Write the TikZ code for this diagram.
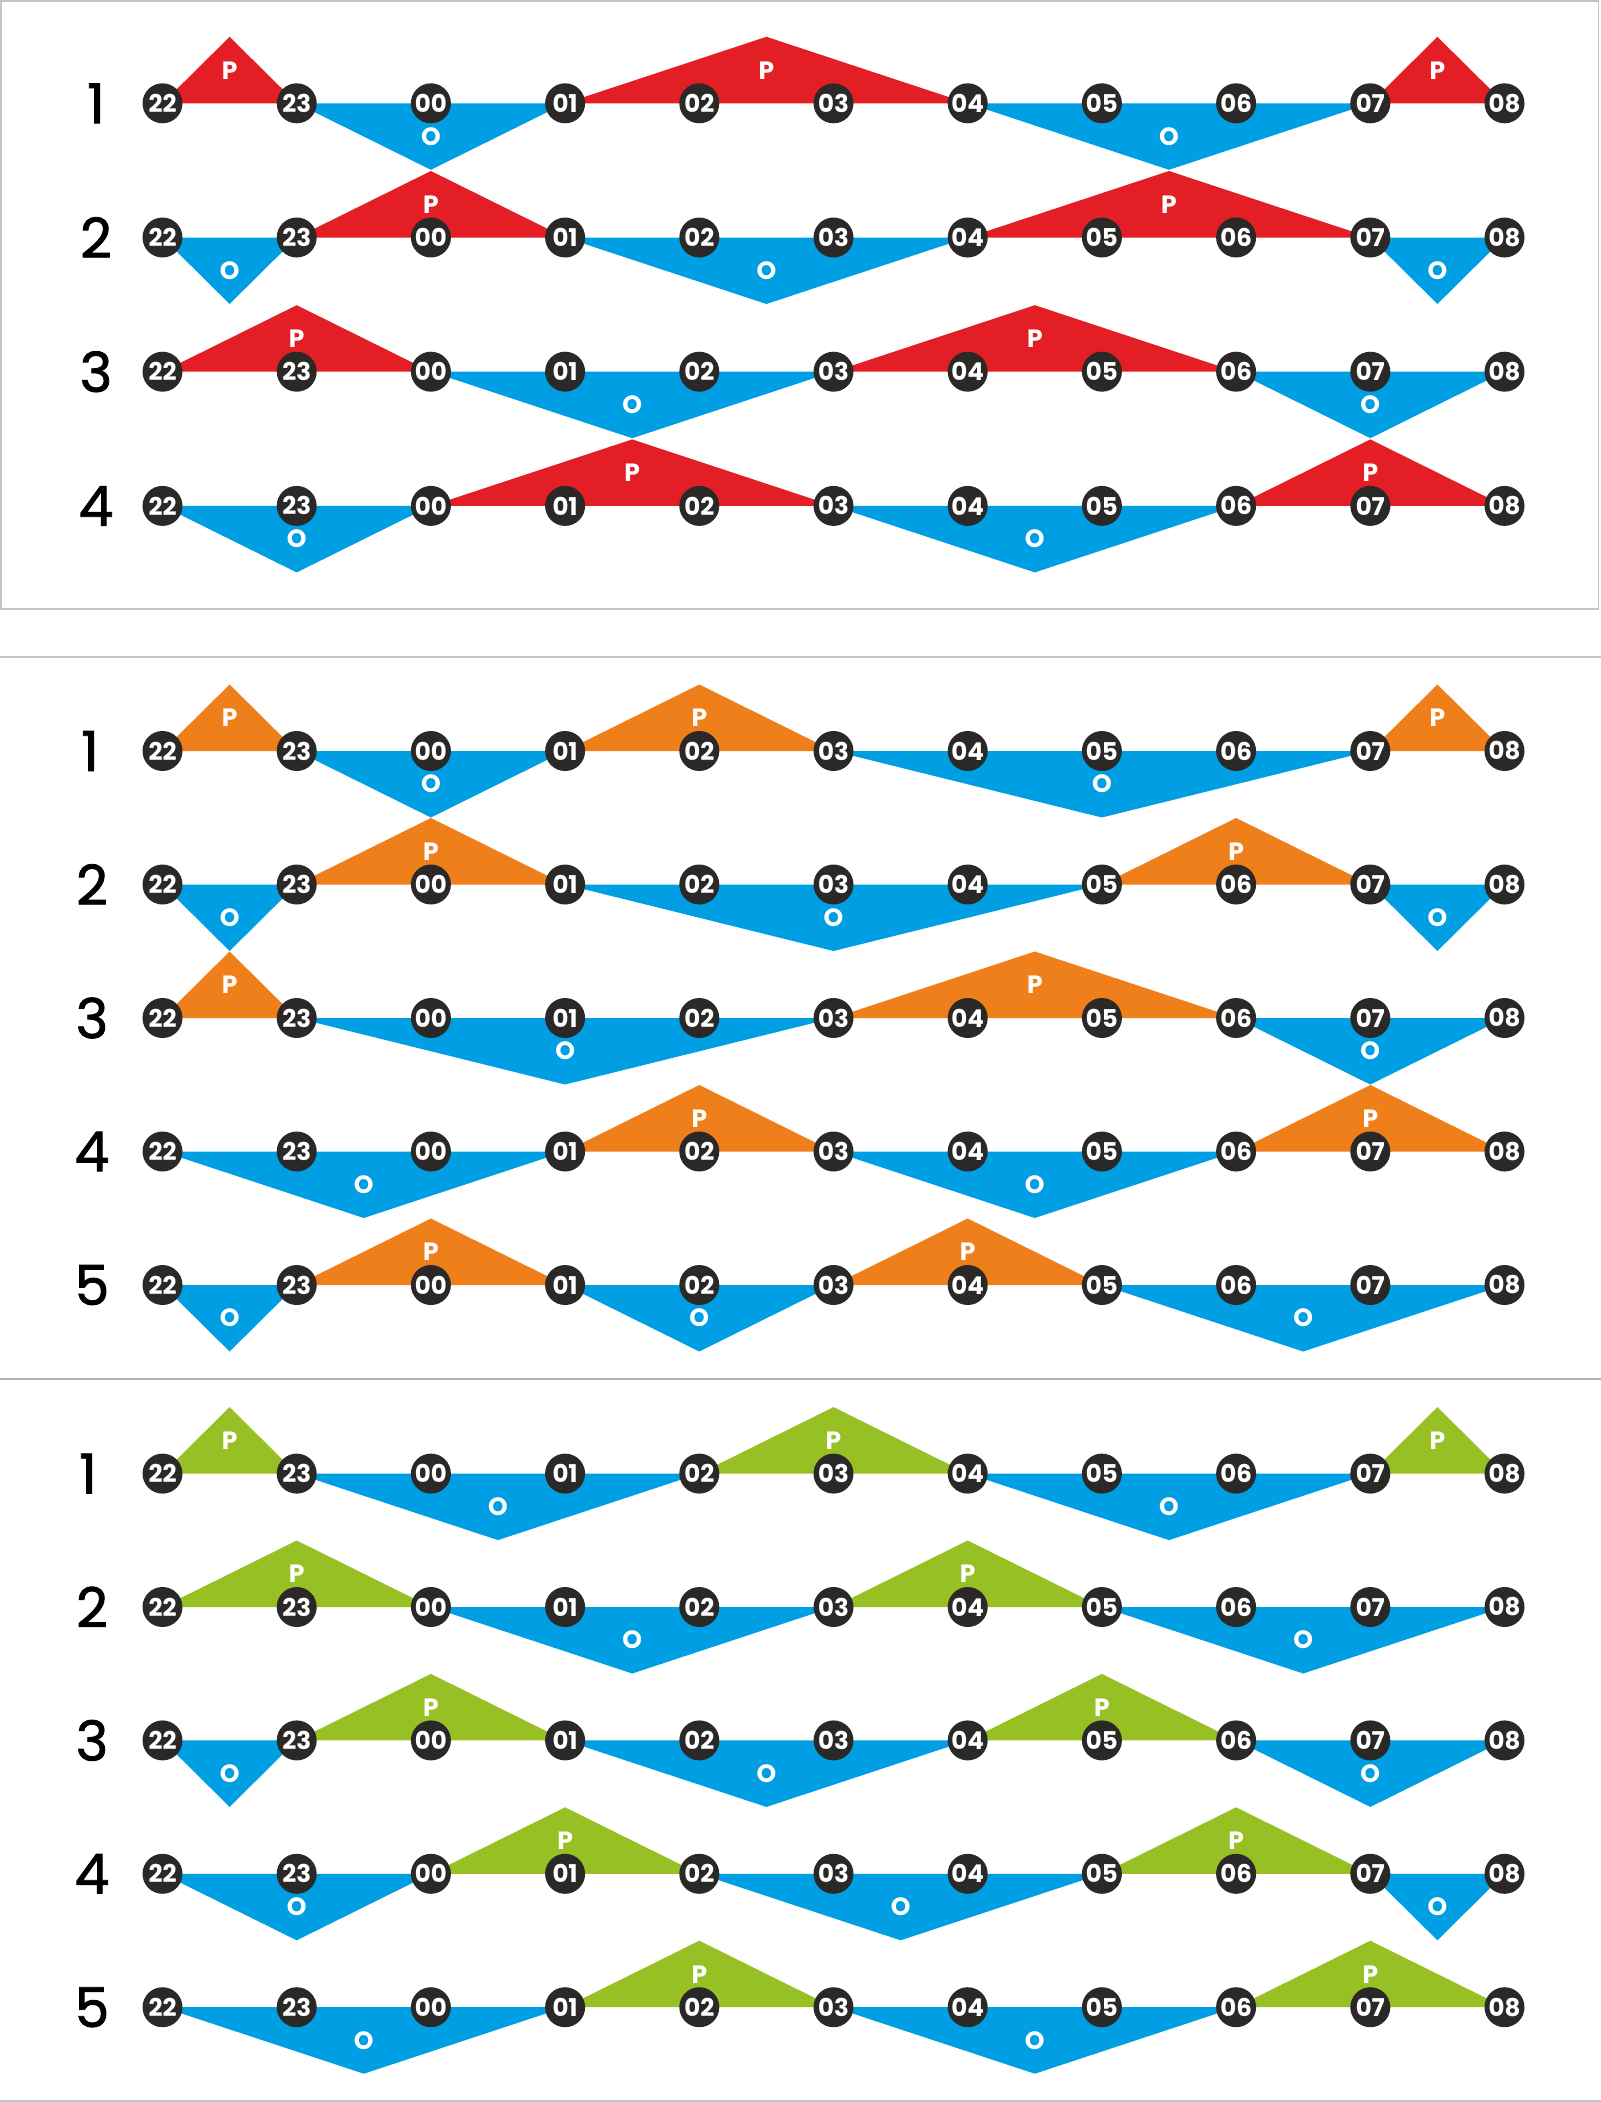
\documentclass[tikz,border=0pt]{standalone}
\usepackage{fontspec}
\setmainfont{Poppins}
\newfontfamily\rowfont{Poppins}[FakeBold=1.5]
\usetikzlibrary{calc}
\pgfdeclarelayer{bg}
\pgfdeclarelayer{paper}
\pgfsetlayers{paper,bg,main}
\definecolor{cred}{HTML}{E31E25}
\definecolor{cblue}{HTML}{009FE3}
\definecolor{corange}{HTML}{EF7F1A}
\definecolor{cgreen}{HTML}{97C024}
\definecolor{cdark}{HTML}{2A2928}
\definecolor{lgray}{HTML}{C4C4C4}
\definecolor{mgray}{HTML}{B4B4B4}
\tikzset{
  stopnode/.style={circle,fill=cdark,minimum size=40pt,inner sep=0pt,text=white,
    font=\bfseries\fontsize{24.5}{24.5}\selectfont},
  rowlab/.style={font=\rowfont\fontsize{55}{55}\selectfont,text=black,inner sep=0pt},
  trilab/.style={text=white,font=\bfseries\fontsize{25}{25}\selectfont,inner sep=0pt},
}
\newcommand\schedrow[6]{%
  \node[rowlab] (#1lab) at (#3,#4) {#2};
  \foreach \i/\t in {0/22,1/23,2/00,3/01,4/02,5/03,6/04,7/05,8/06,9/07,10/08}{%
    \node[stopnode] (#1c\i) at ({162.5+134.2*\i},#4) {\t};}
  \begin{pgfonlayer}{bg}
  \foreach \k/\a/\b in {#6}{%
    \if P\k \def\dir{-1}\def\fc{#5}\else\def\dir{1}\def\fc{cblue}\fi
    \fill[fill=\fc] (#1c\a.center) -- (#1c\b.center)
      -- ($(#1c\a.center)!0.5!(#1c\b.center)+(0,\dir*66.5)$) -- cycle;
  }
  \end{pgfonlayer}
  \foreach \k/\a/\b in {#6}{%
    \if P\k \def\dir{-1}\else\def\dir{1}\fi
    \node[trilab] (#1l\a) at ($(#1c\a.center)!0.5!(#1c\b.center)+(0,\dir*33)$) {\k};
  }
}
\begin{document}
\begin{tikzpicture}[x=1pt,y=-1pt]
\useasboundingbox (0,0) rectangle (1601,2102);
\begin{pgfonlayer}{paper}
\fill[white] (0,0) rectangle (1601,2102);
\end{pgfonlayer}
% frames and separators
\draw[line width=1.6pt,draw=lgray] (1,1) rectangle (1598.5,609);
\draw[line width=1.6pt,draw=lgray] (0,657) -- (1601,657);
\draw[line width=2.6pt,draw=mgray] (0,1379) -- (1601,1379);
\draw[line width=2pt,draw=lgray] (0,2100.8) -- (1601,2100.8);
% panel 1 (red)
\schedrow{aa}{1}{96}{103.3}{cred}{P/0/1,O/1/3,P/3/6,O/6/9,P/9/10}
\schedrow{ab}{2}{96}{237.5}{cred}{O/0/1,P/1/3,O/3/6,P/6/9,O/9/10}
\schedrow{ac}{3}{96}{371.7}{cred}{P/0/2,O/2/5,P/5/8,O/8/10}
\schedrow{ad}{4}{96}{505.9}{cred}{O/0/2,P/2/5,O/5/8,P/8/10}
% panel 2 (orange)
\schedrow{ba}{1}{90}{751}{corange}{P/0/1,O/1/3,P/3/5,O/5/9,P/9/10}
\schedrow{bb}{2}{92}{884.5}{corange}{O/0/1,P/1/3,O/3/7,P/7/9,O/9/10}
\schedrow{bc}{3}{92}{1018}{corange}{P/0/1,O/1/5,P/5/8,O/8/10}
\schedrow{bd}{4}{92}{1151.5}{corange}{O/0/3,P/3/5,O/5/8,P/8/10}
\schedrow{be}{5}{92}{1285}{corange}{O/0/1,P/1/3,O/3/5,P/5/7,O/7/10}
% panel 3 (green)
\schedrow{ca}{1}{88}{1473.6}{cgreen}{P/0/1,O/1/4,P/4/6,O/6/9,P/9/10}
\schedrow{cb}{2}{92}{1607}{cgreen}{P/0/2,O/2/5,P/5/7,O/7/10}
\schedrow{cc}{3}{92}{1740.4}{cgreen}{O/0/1,P/1/3,O/3/6,P/6/8,O/8/10}
\schedrow{cd}{4}{92}{1873.8}{cgreen}{O/0/2,P/2/4,O/4/7,P/7/9,O/9/10}
\schedrow{ce}{5}{92}{2007.2}{cgreen}{O/0/3,P/3/5,O/5/8,P/8/10}
\end{tikzpicture}
\end{document}
